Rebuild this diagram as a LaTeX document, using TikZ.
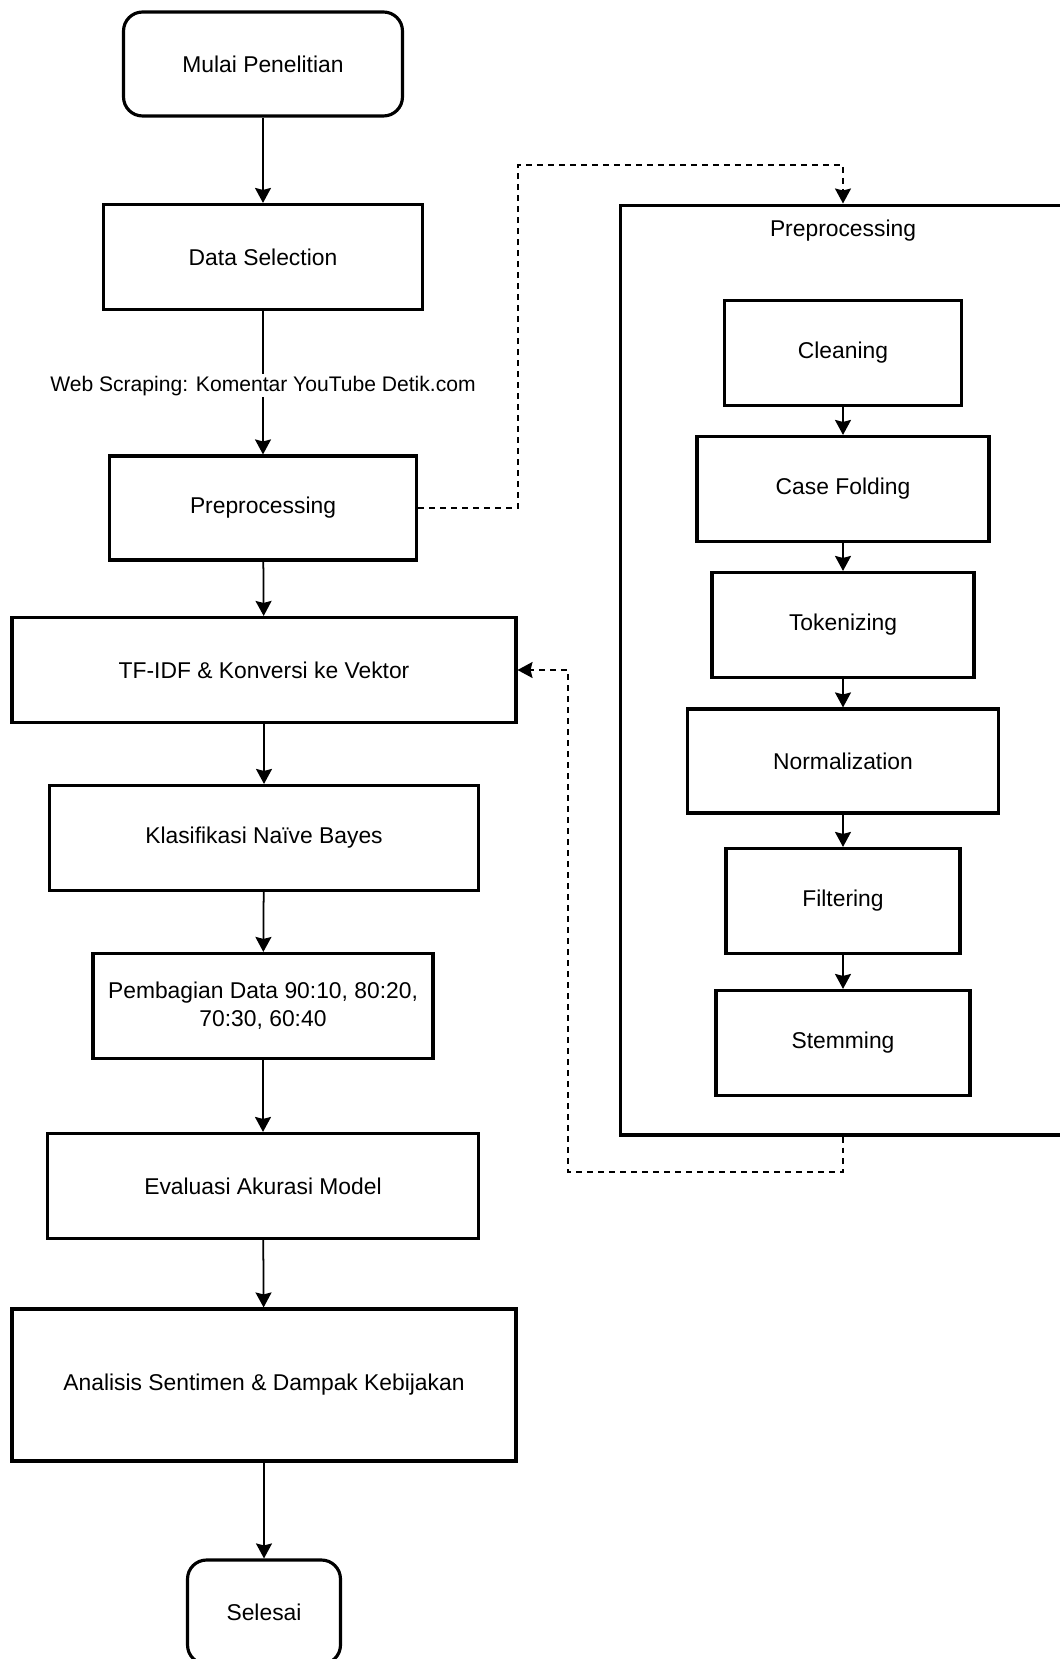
\documentclass[tikz,border=0pt]{standalone}
\usepackage{fontspec}
\setmainfont{Liberation Sans}
\usetikzlibrary{arrows.meta}

\begin{document}
\begin{tikzpicture}[x=0.02cm,y=-0.02cm,
    box/.style={draw,line width=1.8pt,minimum height=2.1cm,inner sep=2pt,align=center,
        font=\fontsize{13}{16}\selectfont},
    term/.style={box,rounded corners=0.38cm},
    group/.style={draw,line width=1.8pt,inner sep=0pt},
    flow/.style={line width=1pt,-{Stealth[length=0.3cm,width=0.32cm,inset=0.04cm]}},
    link/.style={flow,dash pattern=on 0.12cm off 0.1cm}]
    \useasboundingbox (0,0) rectangle (1060,1659);

    % 主流程
    \node[term,minimum width=5.58cm,minimum height=2.08cm] (start) at (263,64) {Mulai Penelitian};
    \node[box,minimum width=6.38cm] (sel) at (263,257) {Data Selection};
    \node[box,minimum width=6.14cm,minimum height=2.08cm] (pre) at (263,508) {Preprocessing};
    \node[box,minimum width=10.08cm] (tfidf) at (264,670) {TF-IDF \& Konversi ke Vektor};
    \node[box,minimum width=8.58cm] (nb) at (264,838) {Klasifikasi Naïve Bayes};
    \node[box,minimum width=6.8cm] (split) at (263,1006) {Pembagian Data 90:10, 80:20,\\70:30, 60:40};
    \node[box,minimum width=8.62cm] (eval) at (263,1186) {Evaluasi Akurasi Model};
    \node[box,minimum width=10.08cm,minimum height=3.04cm] (ana) at (264,1385) {Analisis Sentimen \& Dampak Kebijakan};
    \node[term,minimum width=3.06cm,minimum height=2.08cm] (stop) at (264,1612) {Selesai};

    % 预处理步骤
    \node[group,minimum width=9.98cm,minimum height=18.6cm] (prebox) at (870,670) {};
    \node[font=\fontsize{13}{16}\selectfont] (pretitle) at (843,231) {Preprocessing};
    \node[box,minimum width=4.74cm] (cln) at (843,353) {Cleaning};
    \node[box,minimum width=5.84cm] (cf) at (843,489) {Case Folding};
    \node[box,minimum width=5.24cm] (tok) at (843,625) {Tokenizing};
    \node[box,minimum width=6.22cm,minimum height=2.08cm] (norm) at (843,761) {Normalization};
    \node[box,minimum width=4.68cm] (filt) at (843,901) {Filtering};
    \node[box,minimum width=5.08cm] (stem) at (843,1043) {Stemming};

    \draw[flow] (start) -- (sel);
    \draw[flow] (sel) -- node[fill=white,inner sep=1pt,yshift=-0.06cm,font=\fontsize{12}{14}\selectfont] (scrape)
        {Web Scraping: Komentar YouTube Detik.com} (pre);
    \draw[flow] (pre) -- (tfidf);
    \draw[flow] (tfidf) -- (nb);
    \draw[flow] (nb) -- (split);
    \draw[flow] (split) -- (eval);
    \draw[flow] (eval) -- (ana);
    \draw[flow] (ana) -- (stop);

    \draw[flow] (cln) -- (cf);
    \draw[flow] (cf) -- (tok);
    \draw[flow] (tok) -- (norm);
    \draw[flow] (norm) -- (filt);
    \draw[flow] (filt) -- (stem);

    % 虚线
    \coordinate (jumpA) at (518,165);
    \coordinate (jumpB) at (568,1172);
    \draw[link] (pre.east) -| (jumpA) -| (prebox.north -| cln);
    \draw[link] (prebox.south -| cln) |- (jumpB) |- (tfidf.east);
\end{tikzpicture}
\end{document}
